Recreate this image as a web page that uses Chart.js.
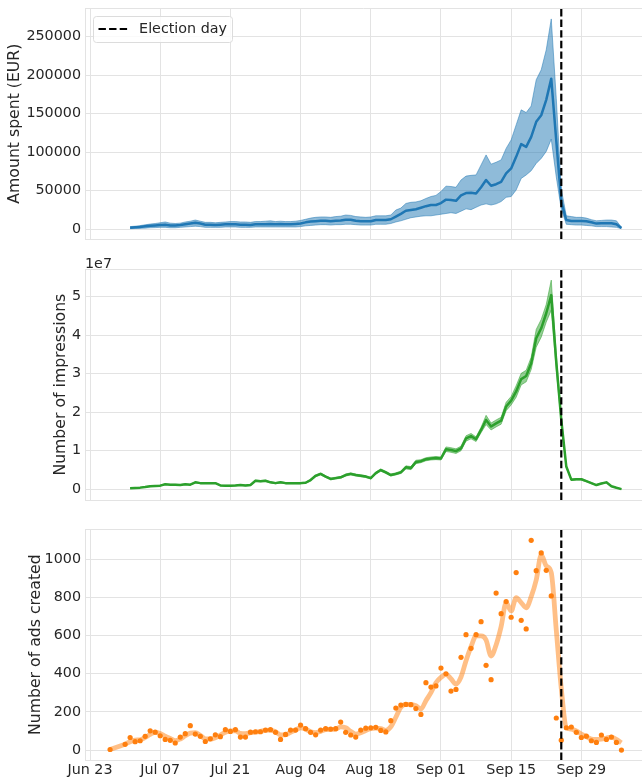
<!DOCTYPE html>
<html>
<head>
<meta charset="utf-8">
<title>Political ads around election day</title>
<script src="https://cdn.jsdelivr.net/npm/chart.js@4.4.1/dist/chart.umd.min.js"></script>
<style>
  html, body { margin: 0; padding: 0; background: #fff; overflow: hidden; }
  body { width: 642px; height: 780px; position: relative; }
  canvas { position: absolute; left: 0; top: -40px; }
</style>
</head>
<body>
<canvas id="spend" width="642" height="860"></canvas>
<canvas id="impr" width="642" height="860"></canvas>
<canvas id="ads" width="642" height="860"></canvas>
<script>
// Three stacked panels sharing one date axis: spend, impressions, ads created.

const tickDates = ['2021-06-23', '2021-07-07', '2021-07-21', '2021-08-04', '2021-08-18', '2021-09-01', '2021-09-15', '2021-09-29'];
const tickLabels = ['Jun 23', 'Jul 07', 'Jul 21', 'Aug 04', 'Aug 18', 'Sep 01', 'Sep 15', 'Sep 29'];
const electionDate = '2021-09-25';

// Spend + impressions: one value per day from Jul 01 to Oct 07
const spendStart = '2021-07-01';
const spendMean = [
  2000, 2500, 3000, 3800, 4500, 5000, 5500, 6000, 5000, 5000,
  5500, 6500, 7500, 8500, 7500, 6000, 6000, 5500, 6000, 6500,
  6500, 6500, 6000, 6000, 5500, 6500, 6500, 6500, 7000, 6500,
  7000, 6500, 6500, 7000, 7500, 9000, 10000, 10500, 11000, 11000,
  10500, 11000, 11500, 12500, 12500, 11000, 10500, 10500, 10500, 12000,
  12000, 12000, 13000, 16500, 20000, 24000, 25000, 26000, 28000, 30000,
  31500, 31500, 34000, 38500, 38000, 37000, 44000, 47000, 47500, 46500,
  54500, 64000, 56500, 58500, 61500, 72500, 79000, 94000, 110500, 107000,
  120000, 139500, 148000, 168000, 195500, 115000, 36000, 12000, 10800, 10800,
  10800, 10400, 9100, 7400, 7800, 7800, 7800, 6500, 1700
];
const spendLow = [
  800, 1000, 1200, 1500, 2000, 2200, 2500, 2500, 2000, 2000,
  2500, 3000, 3500, 4000, 3500, 2500, 2500, 2500, 2500, 3000,
  3000, 3000, 2500, 2500, 2500, 3000, 3000, 3000, 3000, 3000,
  3000, 3000, 3000, 3000, 3500, 4500, 5000, 5500, 6000, 6000,
  5500, 6000, 6000, 6500, 6500, 6000, 5500, 5500, 5500, 6500,
  6500, 6500, 7500, 9500, 11000, 13000, 15000, 16000, 17000, 17500,
  17500, 18500, 19500, 20500, 21500, 20500, 23500, 26500, 25500, 28500,
  31500, 33000, 31500, 33000, 36000, 41500, 42500, 51000, 66000, 70500,
  76000, 85500, 92000, 101000, 117000, 68000, 26000, 6500, 6000, 5500,
  5500, 5000, 4500, 3500, 3500, 3500, 3000, 2500, 800
];
const spendHigh = [
  3500, 4000, 4800, 5800, 6800, 7500, 8500, 9500, 8000, 7500,
  8000, 9500, 10500, 12000, 10500, 9000, 9000, 8500, 9000, 9500,
  10000, 10000, 9500, 9500, 9000, 10000, 10000, 10500, 11000, 10000,
  10500, 10000, 10000, 10500, 11500, 13000, 14500, 15500, 16000, 16000,
  15500, 16500, 17000, 18500, 18000, 16500, 16000, 15500, 16000, 17500,
  17500, 17500, 18500, 25000, 27500, 33500, 35000, 35500, 37000, 40000,
  42500, 44000, 49000, 56000, 55500, 54500, 64000, 69000, 70000, 70500,
  83500, 96500, 84500, 87000, 90000, 105000, 116000, 135500, 155000, 151500,
  160000, 194000, 207000, 233000, 273000, 170000, 52000, 17500, 16500, 15500,
  15500, 14500, 12500, 11000, 11500, 12000, 12000, 11000, 2600
];

// impressions, in millions
const imprMean = [
  0.26, 0.35, 0.43, 0.6, 0.8, 0.87, 0.95, 1.3, 1.2, 1.2,
  1.1, 1.3, 1.2, 1.8, 1.6, 1.6, 1.6, 1.6, 1.0, 0.95,
  0.95, 1.0, 1.1, 1.0, 1.1, 2.2, 2.1, 2.2, 1.8, 1.6,
  1.8, 1.6, 1.6, 1.6, 1.6, 1.7, 2.4, 3.5, 4.0, 3.3,
  2.7, 2.9, 3.1, 3.7, 4.0, 3.7, 3.5, 3.3, 2.9, 4.2,
  5.0, 4.4, 3.7, 4.0, 4.4, 5.7, 5.5, 7.1, 7.3, 7.8,
  8.0, 8.1, 8.0, 10.4, 10.2, 9.9, 10.6, 13.2, 13.8, 13.0,
  15.4, 18.0, 16.3, 17.1, 17.8, 21.5, 23.0, 25.4, 28.6, 29.4,
  32.7, 39.2, 41.8, 45.7, 50.4, 33.0, 18.0, 5.9, 2.5, 2.6,
  2.6, 2.1, 1.6, 1.1, 1.5, 1.8, 0.8, 0.4, 0.05
];
const imprLow = [
  0.18, 0.27, 0.34, 0.5, 0.7, 0.77, 0.85, 1.18, 1.1, 1.1,
  1.0, 1.18, 1.1, 1.67, 1.48, 1.48, 1.48, 1.48, 0.9, 0.85,
  0.85, 0.9, 1.0, 0.86, 0.95, 2.02, 1.93, 2.03, 1.64, 1.45,
  1.64, 1.45, 1.45, 1.44, 1.43, 1.53, 2.2, 3.25, 3.75, 3.08,
  2.48, 2.67, 2.86, 3.45, 3.72, 3.45, 3.25, 3.05, 2.65, 3.92,
  4.72, 4.12, 3.45, 3.72, 4.1, 5.3, 5.1, 6.65, 6.9, 7.4,
  7.6, 7.7, 7.6, 9.8, 9.6, 9.3, 10.0, 12.5, 13.1, 12.4,
  14.7, 16.8, 15.4, 16.2, 16.9, 20.4, 21.9, 23.9, 27.1, 27.9,
  31.1, 36.9, 39.5, 43.4, 46.5, 31.0, 17.2, 5.6, 2.3, 2.4,
  2.4, 1.95, 1.45, 1.0, 1.38, 1.68, 0.72, 0.34, 0.02
];
const imprHigh = [
  0.34, 0.43, 0.52, 0.7, 0.9, 0.97, 1.05, 1.42, 1.3, 1.3,
  1.2, 1.42, 1.3, 1.93, 1.72, 1.72, 1.72, 1.72, 1.1, 1.05,
  1.05, 1.1, 1.2, 1.14, 1.25, 2.38, 2.27, 2.37, 1.96, 1.75,
  1.96, 1.75, 1.75, 1.76, 1.77, 1.87, 2.6, 3.75, 4.25, 3.52,
  2.92, 3.13, 3.34, 3.95, 4.28, 3.95, 3.75, 3.55, 3.15, 4.48,
  5.28, 4.68, 3.95, 4.28, 4.7, 6.1, 5.9, 7.55, 7.7, 8.2,
  8.4, 8.5, 8.4, 11.0, 10.8, 10.5, 11.2, 13.9, 14.5, 13.6,
  16.1, 19.2, 17.2, 18.0, 18.7, 22.6, 24.1, 26.9, 30.1, 30.9,
  34.3, 41.5, 44.1, 48.0, 54.3, 35.0, 18.8, 6.2, 2.7, 2.8,
  2.8, 2.25, 1.75, 1.2, 1.62, 1.92, 0.88, 0.46, 0.08
];

// Ads created: one value per day from Jun 27 to Oct 07 (two missing days)
const adsStart = '2021-06-27';
const adsCount = [
  3, null, null, 30, 66, 44, 49, 72, 101, 94,
  75, 56, 51, 37, 68, 86, 128, 84, 72, 45,
  59, 80, 70, 107, 98, 107, 68, 68, 94, 96,
  96, 105, 107, 93, 56, 82, 105, 105, 131, 112,
  93, 80, 105, 112, 110, 112, 147, 93, 79, 68,
  105, 115, 117, 119, 103, 95, 154, 220, 236, 239,
  238, 218, 187, 353, 330, 336, 430, 400, 309, 318,
  486, 605, 533, 605, 673, 444, 369, 823, 715, 778,
  696, 930, 680, 635, 1099, 940, 1033, 942, 808, 168,
  52, 117, 121, 93, 66, 73, 49, 40, 79, 56,
  68, 40, 0
];
const adsSmooth = [
  3, null, null, 31, 44, 52, 54, 66, 82, 93,
  87, 73, 61, 49, 58, 75, 89, 91, 77, 59,
  58, 65, 79, 93, 101, 101, 87, 86, 91, 94,
  98, 103, 105, 96, 80, 80, 93, 105, 117, 110,
  96, 91, 98, 107, 108, 110, 122, 117, 98, 84,
  91, 103, 112, 115, 112, 103, 122, 172, 224, 239,
  239, 232, 215, 259, 301, 353, 381, 397, 374, 346,
  383, 468, 542, 598, 598, 577, 493, 551, 647, 773,
  729, 799, 773, 746, 804, 891, 1023, 965, 930, 629,
  323, 119, 110, 100, 84, 70, 58, 56, 58, 63,
  68, 56, 38
];

const spendTicks = [0, 50000, 100000, 150000, 200000, 250000];
const imprTicks = [0, 1e7, 2e7, 3e7, 4e7, 5e7];
const adsTicks = [0, 200, 400, 600, 800, 1000];

const BLUE = '#1f77b4', BLUE_BAND = 'rgba(31,119,180,0.5)';
const GREEN = '#2ca02c', GREEN_BAND = 'rgba(44,160,44,0.5)';
const ORANGE = '#ff7f0e', ORANGE_SOFT = 'rgba(255,127,14,0.5)';
const GRID = '#e3e3e3';
const INK = '#262626';
const FONT = 'DejaVu Sans';
const TICK_SIZE = 14.3;
const SHIFT = 40;           // canvases start 40px above the page
const CANVAS_H = 860;
const X_MIN = -1.0, X_MAX = 110.1;

Chart.defaults.font.family = FONT;
Chart.defaults.color = INK;

function dayNum(s) {
  return (Date.parse(s) - Date.parse(tickDates[0])) / 864e5;
}
function pts(start, arr, scale = 1) {
  const d0 = dayNum(start);
  return arr.map((v, i) => ({ x: d0 + i, y: v == null ? null : v * scale }));
}

const electionLine = {
  id: 'electionLine',
  afterDatasetsDraw(chart) {
    const { ctx, chartArea: a, scales: { x } } = chart;
    const px = x.getPixelForValue(dayNum(electionDate));
    ctx.save();
    ctx.strokeStyle = '#000';
    ctx.lineWidth = 2.2;
    ctx.setLineDash([7.4, 3.2]);
    ctx.beginPath();
    ctx.moveTo(px, a.bottom);
    ctx.lineTo(px, a.top);
    ctx.stroke();
    ctx.restore();
  }
};

const topSpine = {
  id: 'topSpine',
  beforeDatasetsDraw(chart) {
    const { ctx, chartArea: a } = chart;
    const y = Math.round(a.top) + 0.5;
    ctx.save();
    ctx.strokeStyle = GRID;
    ctx.lineWidth = 1;
    ctx.beginPath();
    ctx.moveTo(a.left, y);
    ctx.lineTo(a.right, y);
    ctx.stroke();
    ctx.restore();
  }
};

const legendBox = {
  id: 'legendBox',
  afterDraw(chart, args, opts) {
    if (!opts.text) return;
    const { ctx, chartArea: a } = chart;
    const x = Math.round(a.left + 7.7) + 0.5, y = Math.round(a.top + 7.4) + 0.5, w = 139, h = 26;
    ctx.save();
    ctx.fillStyle = 'rgba(255,255,255,0.8)';
    ctx.strokeStyle = '#dcdcdc';
    ctx.lineWidth = 1;
    ctx.beginPath();
    ctx.roundRect(x, y, w, h, 3);
    ctx.fill();
    ctx.stroke();
    ctx.strokeStyle = '#000';
    ctx.lineWidth = 2.2;
    ctx.setLineDash([7.4, 3.2]);
    ctx.beginPath();
    ctx.moveTo(x + 5, y + 12.5);
    ctx.lineTo(x + 34, y + 12.5);
    ctx.stroke();
    ctx.fillStyle = INK;
    ctx.font = `${TICK_SIZE}px '${FONT}'`;
    ctx.textBaseline = 'middle';
    ctx.fillText(opts.text, x + 45.6, y + 13);
    ctx.restore();
  }
};

const offsetText = {
  id: 'offsetText',
  afterDraw(chart, args, opts) {
    if (!opts.text) return;
    const { ctx, chartArea: a } = chart;
    ctx.save();
    ctx.fillStyle = INK;
    ctx.font = `${TICK_SIZE}px '${FONT}'`;
    ctx.textBaseline = 'alphabetic';
    ctx.fillText(opts.text, a.left, a.top - 1);
    ctx.restore();
  }
};

function options(cfg) {
  const font = { family: FONT, size: TICK_SIZE };
  return {
    responsive: false,
    animation: false,
    events: [],
    layout: {
      autoPadding: false,
      padding: {
        left: 0, right: 0,
        top: cfg.top + SHIFT,
        bottom: CANVAS_H - (cfg.bottom + SHIFT) - cfg.xHeight,
      },
    },
    plugins: {
      legend: { display: false },
      tooltip: { enabled: false },
      legendBox: { text: cfg.legend || '' },
      offsetText: { text: cfg.offset || '' },
    },
    elements: { point: { radius: 0 }, line: { borderJoinStyle: 'round' } },
    scales: {
      x: {
        type: 'linear', min: X_MIN, max: X_MAX,
        grid: { color: GRID, lineWidth: 1, drawTicks: false },
        border: { color: GRID, width: 1 },
        ticks: { display: cfg.xHeight > 0, padding: 1.5, color: INK, font, maxRotation: 0, callback: (v, i) => tickLabels[i] },
        afterBuildTicks: s => { s.ticks = tickDates.map(d => ({ value: dayNum(d) })); },
        afterFit: s => { s.height = cfg.xHeight; },
      },
      y: {
        min: cfg.yMin, max: cfg.yMax,
        grid: { color: GRID, lineWidth: 1, drawTicks: false },
        border: { color: GRID, width: 1 },
        ticks: { padding: 4, color: INK, font, callback: cfg.fmt },
        afterBuildTicks: s => { s.ticks = cfg.yTicks.map(v => ({ value: v })); },
        afterFit: s => { s.width = 85; },
        title: {
          display: true, text: cfg.title, color: INK,
          font: { family: FONT, size: 15.7 },
          padding: { top: cfg.titlePad, bottom: 0 },
        },
      },
    },
  };
}

const plugins = [topSpine, electionLine, legendBox, offsetText];

new Chart(document.getElementById('spend'), {
  type: 'line',
  data: {
    datasets: [
      { data: pts(spendStart, spendMean), borderColor: BLUE, borderWidth: 2.5, fill: false },
      { data: pts(spendStart, spendLow), borderColor: BLUE_BAND, borderWidth: 1, fill: false },
      { data: pts(spendStart, spendHigh), borderColor: BLUE_BAND, borderWidth: 1, fill: '-1', backgroundColor: BLUE_BAND },
    ],
  },
  options: options({
    top: 8.3, bottom: 239, xHeight: 0,
    yMin: -12600, yMax: 286800, yTicks: spendTicks, fmt: v => String(v),
    title: 'Amount spent (EUR)', titlePad: 5.9, legend: 'Election day',
  }),
  plugins,
});

new Chart(document.getElementById('impr'), {
  type: 'line',
  data: {
    datasets: [
      { data: pts(spendStart, imprMean, 1e6), borderColor: GREEN, borderWidth: 2.5, fill: false },
      { data: pts(spendStart, imprLow, 1e6), borderColor: GREEN_BAND, borderWidth: 1, fill: false },
      { data: pts(spendStart, imprHigh, 1e6), borderColor: GREEN_BAND, borderWidth: 1, fill: '-1', backgroundColor: GREEN_BAND },
    ],
  },
  options: options({
    top: 269.3, bottom: 500, xHeight: 0,
    yMin: -2.78e6, yMax: 5.711e7, yTicks: imprTicks, fmt: v => String(Math.round(v / 1e7)),
    title: 'Number of impressions', titlePad: 51.1, offset: '1e7',
  }),
  plugins,
});

new Chart(document.getElementById('ads'), {
  type: 'line',
  data: {
    datasets: [
      { data: pts(adsStart, adsCount), showLine: false, pointRadius: 2.6, pointHoverRadius: 0, pointBackgroundColor: ORANGE, pointBorderWidth: 0, borderColor: ORANGE },
      { data: pts(adsStart, adsSmooth), borderColor: ORANGE_SOFT, borderWidth: 4.8, cubicInterpolationMode: 'monotone', spanGaps: true, fill: false },
    ],
  },
  options: options({
    top: 529.3, bottom: 760, xHeight: 20,
    yMin: -52, yMax: 1157, yTicks: adsTicks, fmt: v => String(v),
    title: 'Number of ads created', titlePad: 26.9,
  }),
  plugins,
});
</script>
</body>
</html>
